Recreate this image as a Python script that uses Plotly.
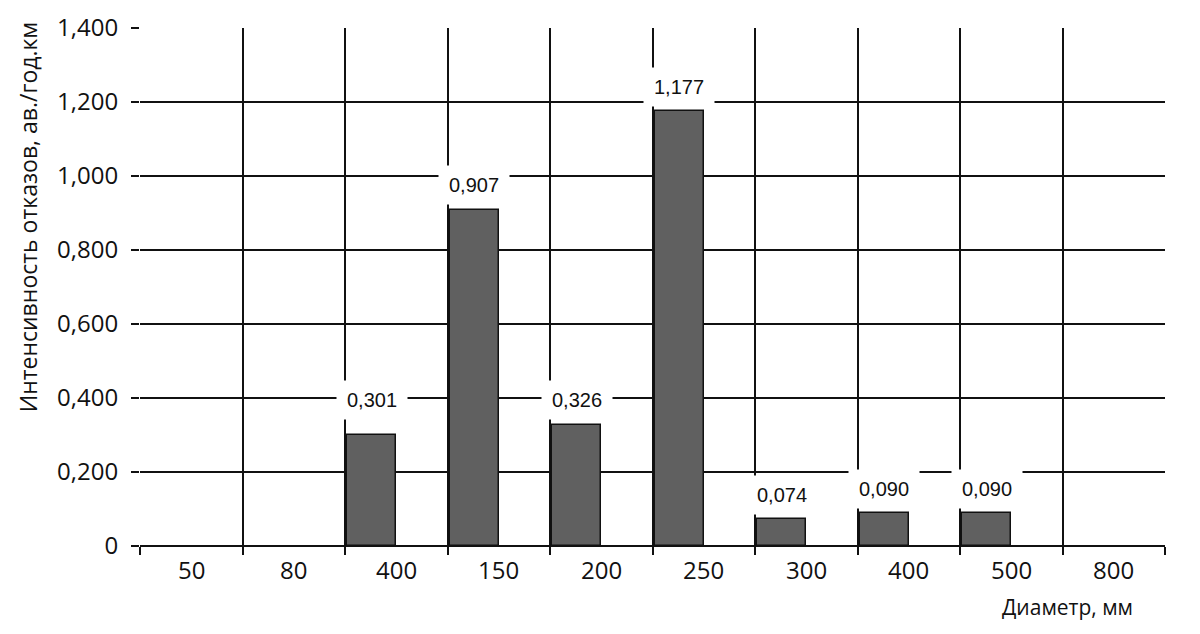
import plotly.graph_objects as go

categories = ["50", "80", "400", "150", "200", "250", "300", "400", "500", "800"]
values = [0, 0, 0.301, 0.907, 0.326, 1.177, 0.074, 0.090, 0.090, 0]
value_labels = ["", "", "0,301", "0,907", "0,326", "1,177", "0,074", "0,090", "0,090", ""]
y_ticks = [0, 0.2, 0.4, 0.6, 0.8, 1.0, 1.2, 1.4]
y_tick_labels = ["0", "0,200", "0,400", "0,600", "0,800", "1,000", "1,200", "1,400"]
y_title = "Интенсивность отказов, ав./год.км"
x_title = "Диаметр, мм"

label_shift = [0, 0, 35, 25, 25, 24, 24, 24, 24, 0]

n = len(categories)
xs = list(range(n))
bounds = [i - 0.5 for i in range(n + 1)]

fig = go.Figure()
fig.add_trace(go.Bar(
    x=xs, y=[v if v else None for v in values],
    width=0.48, offset=-0.48,
    marker=dict(color="#606060", line=dict(color="#111111", width=1.5)),
    showlegend=False,
))

TICKFONT = dict(family="Open Sans, Noto Sans, sans-serif", size=24, color="#111111")

annotations = []
for i, (v, lab) in enumerate(zip(values, value_labels)):
    if lab:
        annotations.append(dict(
            x=i - 0.24, y=v, xref="x", yref="y", text=lab, showarrow=False,
            yanchor="middle", yshift=label_shift[i],
            font=dict(family="Liberation Sans, Arial, sans-serif", size=20, color="#111111"),
            bgcolor="white", borderpad=0, width=70, height=38,
        ))
for i, c in enumerate(categories):
    annotations.append(dict(
        x=i, y=0, xref="x", yref="y", text=c, showarrow=False,
        yanchor="middle", yshift=-23, font=TICKFONT,
    ))
annotations.append(dict(
    x=0.905, y=-0.118, xref="paper", yref="paper", text=x_title,
    showarrow=False, xanchor="center", yanchor="middle",
    font=dict(family="Open Sans, Noto Sans, sans-serif", size=21, color="#111111"),
))
annotations.append(dict(
    x=-0.109, y=0.635, xref="paper", yref="paper", text=y_title,
    showarrow=False, textangle=-90, xanchor="center", yanchor="middle",
    font=dict(family="Open Sans, Noto Sans, sans-serif", size=23, color="#111111"),
))

fig.update_layout(
    width=1200, height=634,
    margin=dict(l=132, r=43, t=20, b=96),
    paper_bgcolor="white", plot_bgcolor="white",
    bargap=0,
    annotations=annotations,
    xaxis=dict(
        range=[-0.5, n - 0.5], tickvals=bounds, ticktext=[""] * len(bounds),
        showgrid=True, gridcolor="#111111", gridwidth=1.5,
        ticks="outside", ticklen=8, tickwidth=1.5, tickcolor="#111111",
        zeroline=False, showline=False, automargin=False,
    ),
    yaxis=dict(
        range=[0, 1.4], tickvals=y_ticks, ticktext=y_tick_labels,
        showgrid=True, gridcolor="#111111", gridwidth=1.5,
        ticks="outside", ticklen=8, tickwidth=1.5, tickcolor="#111111",
        tickfont=TICKFONT, ticklabelstandoff=8,
        zeroline=True, zerolinecolor="#111111", zerolinewidth=2,
        showline=False, automargin=False,
    ),
)

fig.write_html("out.html")
